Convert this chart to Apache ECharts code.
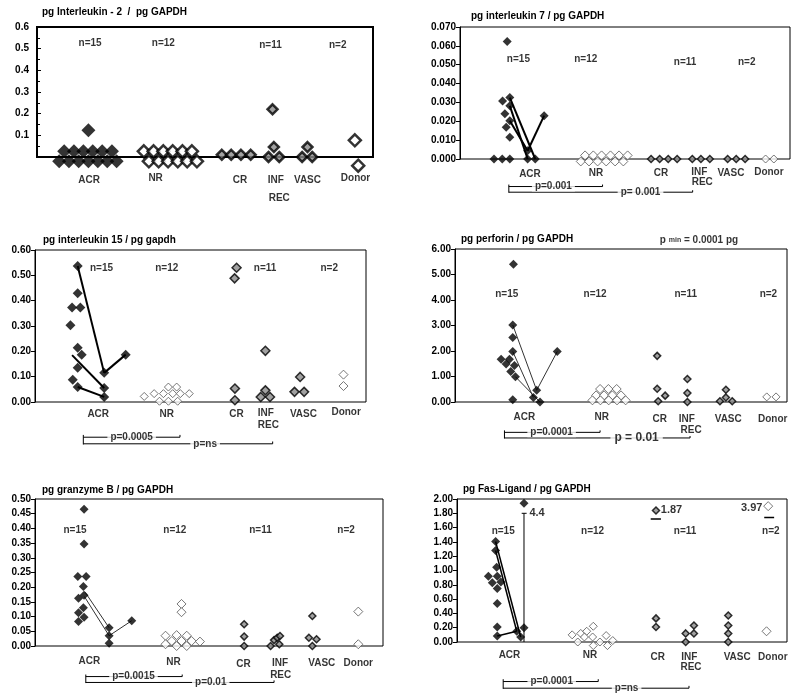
<!DOCTYPE html>
<html><head><meta charset="utf-8">
<script src="https://cdn.jsdelivr.net/npm/echarts@6/dist/echarts.min.js"></script>
<style>html,body{margin:0;padding:0;background:#fff}#c{width:800px;height:697px}</style>
</head><body><div id="c"></div>
<script>
const FONT = 'Liberation Sans, Arial, sans-serif';
const CATEGORIES = ['ACR','NR','CR','INF','REC','VASC','Donor'];
const N_LABELS = ['n=15','n=12','n=11','n=2'];
const TITLES = ['pg Interleukin - 2  /  pg GAPDH','pg interleukin 7 / pg GAPDH','pg interleukin 15 / pg gapdh','pg perforin / pg GAPDH','pg granzyme B / pg GAPDH','pg Fas-Ligand / pg GAPDH'];
const P_VALUES = [null,['p=0.001','p= 0.001'],['p=0.0005','p=ns'],['p=0.0001','p = 0.01'],['p=0.0015','p=0.01'],['p=0.0001','p=ns']];
const Y_MAX = [0.6,0.07,0.6,6,0.5,2];
const Y_INTERVAL = [0.1,0.01,0.1,1,0.05,0.2];
const Y_DECIMALS = [1,3,2,2,2,2];

// each point: [jitter position (0-100 across panel), value]
// Panel 1: IL-2
const il2_acr = [[8.1,0.026],[11.0,0.026],[13.8,0.026],[16.6,0.026],[19.4,0.026],[22.3,0.026],[6.6,-0.02],[9.5,-0.02],[12.4,-0.02],[15.3,-0.02],[18.1,-0.02],[20.9,-0.02],[23.7,-0.02],[15.3,0.123]];
const il2_nr = [[31.8,0.026],[34.7,0.026],[37.6,0.026],[40.4,0.026],[43.3,0.026],[46.1,0.026],[33.3,-0.02],[36.2,-0.02],[39.0,-0.02],[41.9,-0.02],[44.7,-0.02],[47.6,-0.02]];
const il2_cr = [[55.0,0.01],[57.8,0.01],[60.7,0.01],[63.6,0.01]];
const il2_inf = [[70.1,0.22],[70.5,0.046],[68.9,0],[72.1,0]];
const il2_vasc = [[80.5,0.046],[78.9,0],[81.9,0]];
const il2_donor = [[94.6,0.077],[95.6,-0.04]];
const il2_pairs = [];
// Panel 2: IL-7
const il7_acr = [[14.3,0.0623],[12.9,0.0307],[15.1,0.0326],[13.6,0.024],[15.1,0.0282],[15.1,0.0203],[14.0,0.0168],[15.1,0.0115],[10.3,0],[12.8,0],[15.1,0],[20.5,0.0044],[20.5,0],[22.8,0],[25.5,0.023]];
const il7_pairs = [[[15.1,0.0326],[22.8,0]],[[15.1,0.0282],[20.5,0]],[[15.1,0.0203],[20.5,0.0044]],[[20.5,0.0044],[25.5,0.023]]];
const il7_nr = [[37.9,0.0019],[40.4,0.0019],[42.9,0.0019],[45.6,0.0019],[48.2,0.0019],[50.8,0.0019],[36.6,-0.0013],[39.1,-0.0013],[41.7,-0.0013],[44.3,-0.0013],[47.0,-0.0013],[49.5,-0.0013]];
const il7_cr = [[57.9,0],[60.5,0],[63.1,0],[65.8,0]];
const il7_inf = [[70.4,0],[73.0,0],[75.7,0]];
const il7_vasc = [[81.1,0],[83.7,0],[86.4,0]];
const il7_donor = [[92.6,0],[95.1,0]];
// Panel 3: IL-15
const il15_acr = [[12.9,0.537],[12.9,0.429],[11.2,0.373],[13.7,0.373],[10.7,0.303],[12.9,0.214],[14.1,0.187],[12.9,0.135],[11.4,0.088],[12.9,0.059],[20.9,0.115],[20.9,0.055],[20.9,0.02],[27.4,0.187]];
const il15_pairs = [[[12.9,0.537],[20.9,0.115]],[[11.2,0.185],[20.9,0.055]],[[12.9,0.059],[20.9,0.02]],[[20.9,0.115],[27.4,0.187]]];
const il15_nr = [[33.0,0.022],[36.0,0.033],[37.6,0.003],[38.8,0.033],[40.3,0.059],[40.3,0.003],[41.6,0.033],[42.8,0.059],[43.1,0.003],[43.9,0.033],[46.6,0.033]];
const il15_cr = [[60.9,0.53],[60.3,0.488],[60.4,0.053],[60.4,0.007]];
const il15_inf = [[69.6,0.202],[69.6,0.046],[68.2,0.02],[71.0,0.02]];
const il15_vasc = [[80.1,0.099],[78.4,0.04],[81.3,0.04]];
const il15_donor = [[93.2,0.108],[93.2,0.063]];
// Panel 4: perforin
const perf_acr = [[17.6,5.40],[17.4,3.02],[17.4,2.53],[17.4,1.98],[13.9,1.68],[16.4,1.68],[15.4,1.49],[17.9,1.43],[16.8,1.20],[18.2,0.99],[17.4,0.09],[23.6,0.18],[24.6,0.46],[25.6,0.0],[30.8,1.98]];
const perf_pairs = [[[17.4,3.02],[24.6,0.46]],[[17.4,1.98],[23.6,0.18]],[[18.2,0.99],[25.6,0.0]],[[24.6,0.46],[30.8,1.98]]];
const perf_nr = [[43.7,0.51],[46.2,0.51],[48.7,0.51],[42.5,0.26],[44.9,0.26],[47.4,0.26],[50.0,0.26],[41.4,0.065],[43.8,0.065],[46.3,0.065],[48.8,0.065],[51.4,0.065]];
const perf_cr = [[60.9,1.81],[60.9,0.52],[63.3,0.25],[61.2,0.03]];
const perf_inf = [[70.0,0.9],[70.0,0.35],[70.0,0.0]];
const perf_vasc = [[81.6,0.48],[81.6,0.18],[79.8,0.03],[83.5,0.03]];
const perf_donor = [[93.9,0.2],[96.7,0.2]];
// Panel 5: granzyme B
const gzm_acr = [[14.1,0.465],[14.1,0.347],[12.3,0.236],[14.7,0.236],[13.9,0.202],[14.1,0.173],[12.5,0.162],[13.9,0.130],[12.5,0.113],[14.1,0.0975],[12.5,0.083],[21.3,0.062],[21.3,0.035],[21.3,0.009],[27.8,0.086]];
const gzm_pairs = [[[14.4,0.183],[21.3,0.062]],[[14.2,0.168],[21.3,0.035]],[[21.3,0.035],[27.8,0.086]]];
const gzm_nr = [[37.5,0.035],[37.5,0.006],[39.3,0.017],[40.7,0.037],[40.7,0.0],[42.1,0.017],[42.1,0.143],[42.1,0.115],[43.6,0.035],[43.6,0.0],[45.0,0.017],[47.4,0.015]];
const gzm_cr = [[60.1,0.074],[60.1,0.032],[60.1,0]];
const gzm_inf = [[67.7,0],[68.7,0.02],[69.6,0.028],[70.4,0.034],[70.2,0.006]];
const gzm_vasc = [[79.7,0.102],[78.7,0.028],[80.9,0.023],[79.7,0]];
const gzm_donor = [[92.9,0.117],[92.9,0.006]];
// Panel 6: Fas-Ligand
const fasl_acr = [[11.7,1.405],[11.7,1.28],[12.0,1.045],[9.5,0.92],[12.2,0.92],[10.7,0.83],[13.3,0.84],[12.2,0.75],[12.2,0.54],[12.2,0.21],[12.2,0.085],[18.1,0.15],[19.3,0.07],[20.3,1.94],[20.3,0.2]];
const fasl_pairs = [[[11.7,1.405],[19.3,0.07]],[[11.7,1.28],[18.1,0.15]],[[12.2,0.085],[18.1,0.15]]];
const fasl_nr = [[34.9,0.1],[36.6,0],[37.5,0.12],[39.3,0.15],[38.6,0.07],[41.3,0.22],[41.1,0.07],[41.3,-0.05],[43.3,0],[45.2,0.09],[45.6,-0.05],[47.2,0.02]];
const fasl_cr = [[60.3,1.84],[60.3,0.33],[60.3,0.21]];
const fasl_inf = [[69.3,0.12],[69.3,0],[71.8,0.23],[71.8,0.12]];
const fasl_vasc = [[82.2,0.37],[82.2,0.23],[82.2,0.12],[82.2,0]];
const fasl_donor = [[94.3,1.9],[93.8,0.15]];
const FASL_OFFSCALE = ['4.4','1.87','3.97'];

// ---------- layout ----------
const GRIDS = [
  {left:37, top:27, width:336, height:130},
  {left:460, top:27, width:330, height:132},
  {left:35, top:250, width:331, height:152},
  {left:455, top:249, width:332, height:153},
  {left:35, top:499, width:348, height:147},
  {left:457, top:499, width:330, height:143}
];
const TITLE_POS = [[42,7],[471,11],[43,235],[461,234],[42,485],[463,484]];
const SIZES = [
  {acr:14,nr:12,sh:10,don:12,bw:2.5},
  {acr:9,nr:9,sh:7,don:8,bw:1},
  {acr:10,nr:8,sh:9,don:9,bw:1},
  {acr:9,nr:9,sh:7,don:8,bw:1},
  {acr:9,nr:9,sh:7,don:9,bw:1},
  {acr:9,nr:8,sh:7,don:9,bw:1}
];
const PAIR_STYLE = [null,{width:2,color:'#000'},{width:2,color:'#000'},{width:1,color:'#333'},{width:1,color:'#333'},{width:1.5,color:'#000'}];
const CAT_POS = [
  [[15.5,-0.105],[35.3,-0.1],[60.4,-0.107],[71.1,-0.107],[72.1,-0.189],[80.5,-0.107],[94.8,-0.1]],
  [[21.2,-0.0079],[41.2,-0.0075],[60.9,-0.0075],[72.5,-0.007],[73.4,-0.0123],[82.1,-0.0075],[93.6,-0.007]],
  [[19.1,-0.05],[39.8,-0.05],[60.9,-0.05],[69.7,-0.046],[70.5,-0.092],[81.1,-0.05],[94.0,-0.042]],
  [[20.9,-0.6],[44.2,-0.6],[61.7,-0.69],[69.8,-0.66],[71.1,-1.11],[82.3,-0.69],[95.7,-0.69]],
  [[15.6,-0.053],[39.8,-0.056],[59.9,-0.062],[70.4,-0.059],[70.6,-0.099],[82.4,-0.059],[92.9,-0.059]],
  [[15.9,-0.19],[40.3,-0.19],[60.8,-0.21],[70.4,-0.21],[70.9,-0.35],[84.9,-0.21],[95.7,-0.21]]
];
const N_POS = [
  [[15.8,0.526],[37.6,0.526],[69.5,0.518],[89.5,0.518]],
  [[17.7,0.0527],[38.1,0.0527],[68.2,0.0515],[86.9,0.0515]],
  [[20.1,0.528],[39.8,0.528],[69.5,0.528],[88.9,0.528]],
  [[15.6,4.24],[42.2,4.24],[69.5,4.24],[94.4,4.24]],
  [[11.5,0.395],[40.2,0.395],[64.8,0.395],[89.4,0.395]],
  [[14.0,1.55],[41.1,1.55],[69.1,1.55],[95.1,1.55]]
];
const BRACKETS = [null,
  {x1:14.8,x2:43.2,x3:70.5,y1:-0.0146,y2:-0.0176,t1:28.3,t2:54.7},
  {x1:14.6,x2:43.8,x3:71.8,y1:-0.139,y2:-0.165,t1:29.2,t2:51.4},
  {x1:14.9,x2:43.7,x3:70.8,y1:-1.19,y2:-1.41,t1:29.1,t2:54.7},
  {x1:14.6,x2:42.3,x3:68.7,y1:-0.104,y2:-0.124,t1:28.3,t2:50.5},
  {x1:14.0,x2:42.8,x3:70.3,y1:-0.553,y2:-0.646,t1:28.7,t2:51.4}
];
const PANELS = [
  {acr:il2_acr,nr:il2_nr,cr:il2_cr,inf:il2_inf,vasc:il2_vasc,don:il2_donor,pairs:il2_pairs},
  {acr:il7_acr,nr:il7_nr,cr:il7_cr,inf:il7_inf,vasc:il7_vasc,don:il7_donor,pairs:il7_pairs},
  {acr:il15_acr,nr:il15_nr,cr:il15_cr,inf:il15_inf,vasc:il15_vasc,don:il15_donor,pairs:il15_pairs},
  {acr:perf_acr,nr:perf_nr,cr:perf_cr,inf:perf_inf,vasc:perf_vasc,don:perf_donor,pairs:perf_pairs},
  {acr:gzm_acr,nr:gzm_nr,cr:gzm_cr,inf:gzm_inf,vasc:gzm_vasc,don:gzm_donor,pairs:gzm_pairs},
  {acr:fasl_acr,nr:fasl_nr,cr:fasl_cr,inf:fasl_inf,vasc:fasl_vasc,don:fasl_donor,pairs:fasl_pairs}
];

const TXT = {color:'#000', fontFamily:FONT, fontWeight:'bold', fontSize:10};

function pts(g, data, item, size) {
  return {type:'scatter', xAxisIndex:g, yAxisIndex:g, data:data, symbol:'diamond', symbolSize:size,
    itemStyle:item, clip:false, silent:true, z:4};
}
function texts(g, items, extra) {
  return {type:'scatter', xAxisIndex:g, yAxisIndex:g, symbolSize:1, clip:false, silent:true, z:6,
    itemStyle:{color:'rgba(0,0,0,0)'},
    data: items.map(it => ({value:[it[0],it[1]], name:it[2]})),
    label:Object.assign({show:true, position:'inside', formatter:'{b}'}, TXT, extra||{})};
}
function seg(g, data, style, z) {
  return {type:'line', xAxisIndex:g, yAxisIndex:g, data:data, symbol:'none', clip:false, silent:true,
    lineStyle:style, z:z||3};
}

const series = [];
PANELS.forEach((p, g) => {
  const s = SIZES[g];
  const bw = s.bw;
  p.pairs.forEach(pr => series.push(seg(g, pr, PAIR_STYLE[g], 3)));
  series.push(pts(g, p.acr, {color:'#000'}, s.acr));
  series.push(pts(g, p.nr, {color:'#fff', borderColor: g===0?'#000':'#555', borderWidth: g===0?2.5:1}, s.nr));
  const shaded = {color:'#8a8a8a', borderColor:'#000', borderWidth: g===0?2.5:1.5};
  series.push(pts(g, p.cr, shaded, s.sh));
  series.push(pts(g, p.inf, shaded, s.sh));
  series.push(pts(g, p.vasc, shaded, s.sh));
  series.push(pts(g, p.don, {color:'#fff', borderColor:g===0?'#000':'#555', borderWidth: g===0?2.5:1}, s.don));
  series.push(texts(g, CATEGORIES.map((c,i) => [CAT_POS[g][i][0], CAT_POS[g][i][1], c])));
  series.push(texts(g, N_LABELS.map((c,i) => [N_POS[g][i][0], N_POS[g][i][1], c])));
  const b = BRACKETS[g];
  if (b) {
    const d = (b.y1 - b.y2) * 0.35;
    const ls = {width:1, color:'#000'};
    series.push(seg(g, [[b.x1, b.y1 + d], [b.x1, b.y2 - d*0.3]], ls));
    series.push(seg(g, [[b.x1, b.y1], [b.x2, b.y1], [b.x2, b.y1 + d]], ls));
    series.push(seg(g, [[b.x1, b.y2], [b.x3, b.y2], [b.x3, b.y2 + d]], ls));
    series.push(texts(g, [[b.t1, b.y1, P_VALUES[g][0]]], {backgroundColor:'#fff', padding:[0,3]}));
    series.push(texts(g, [[b.t2, b.y2, P_VALUES[g][1]]], g===3 ? {backgroundColor:'#fff', padding:[0,4], fontSize:12} : {backgroundColor:'#fff', padding:[0,3]}));
  }
});
// Panel 6 off-scale annotations
series.push(seg(5, [[20.3,0],[20.3,1.80]], {width:1, color:'#000'}));
series.push(seg(5, [[19.6,1.80],[21.1,1.80]], {width:1, color:'#000'}));
series.push(seg(5, [[58.7,1.72],[61.8,1.72]], {width:1.5, color:'#000'}));
series.push(seg(5, [[93.1,1.74],[96.1,1.74]], {width:1.5, color:'#000'}));
series.push(texts(5, [[21.8,1.81,FASL_OFFSCALE[0]],[61.6,1.85,FASL_OFFSCALE[1]]], {position:'right', distance:0, fontSize:11}));
series.push(texts(5, [[92.7,1.87,FASL_OFFSCALE[2]]], {position:'left', distance:0, fontSize:11}));
// perforin detection limit note
series.push(texts(3, [[73.5,6.35,'']], {formatter:'{a|p }{s|min}{a| = 0.0001 pg}', rich:{a:{fontSize:10,fontWeight:'bold',fontFamily:FONT,color:'#000'}, s:{fontSize:7,fontWeight:'bold',fontFamily:FONT,color:'#000'}}}));

const option = {
  animation:false,
  backgroundColor:'#fff',
  title: TITLES.map((t,i) => ({text:t, left:TITLE_POS[i][0], top:TITLE_POS[i][1], padding:0,
    textStyle:{fontSize:10, fontWeight:'bold', fontFamily:FONT, color:'#000'}})),
  grid: GRIDS.map((g,i) => Object.assign({show:true, borderColor:'#000', borderWidth:i===0?2:1, backgroundColor:'transparent'}, g)),
  xAxis: GRIDS.map((g,i) => ({type:'value', gridIndex:i, min:0, max:100, show:false})),
  yAxis: GRIDS.map((g,i) => ({type:'value', gridIndex:i, min:0, max:Y_MAX[i], interval:Y_INTERVAL[i],
    axisLine:{show:true, lineStyle:{color:'#000', width:i===0?2:1}},
    axisTick:{show:true, inside:i===0, length:4, lineStyle:{color:'#000'}},
    minorTick:{show:i===0, splitNumber:2, length:3, lineStyle:{color:'#000'}},
    splitLine:{show:false},
    axisLabel:{color:'#000', fontFamily:FONT, fontWeight:'bold', fontSize:10, margin:i===0?8:4,
      formatter: v => (i===0 && Math.abs(v)<1e-9) ? '' : v.toFixed(Y_DECIMALS[i])}
  })),
  series: series
};
const chart = echarts.init(document.getElementById('c'), null, {renderer:'canvas'});
chart.setOption(option);
</script></body></html>
